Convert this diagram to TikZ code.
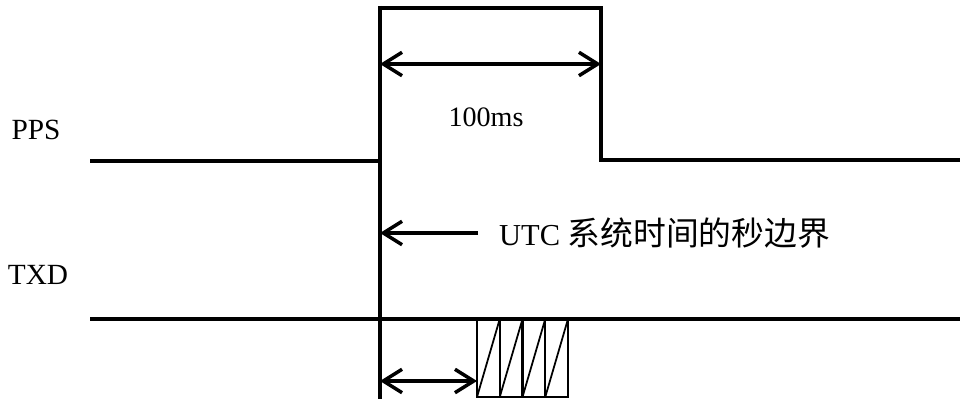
\documentclass[tikz,border=0pt]{standalone}
\usepackage{fontspec}
\setmainfont{Liberation Serif}
\newfontfamily\cjkfont{Noto Sans CJK SC}
\usetikzlibrary{arrows.meta}

\begin{document}
\begin{tikzpicture}[x=0.03cm, y=-0.03cm,
  % Signal lines: heavy black
  signal/.style={line width=3.2pt, line join=miter},
  % Dimension arrows: open barbs
  dimarrow/.style={line width=3pt,
                   arrows={Straight Barb[length=16pt, width=20pt, line width=3pt]-Straight Barb[length=16pt, width=20pt, line width=3pt]}},
  onearrow/.style={line width=3pt,
                   arrows={-Straight Barb[length=16pt, width=20pt, line width=3pt]}},
  % Texts
  sigtext/.style={font=\fontsize{24}{28}\selectfont, inner sep=0pt},
  % Data frame
  frame/.style={line width=2pt},
  bitline/.style={line width=1.5pt}
]
  \useasboundingbox (0,0) rectangle (960,401);

  % Signal names
  \node[sigtext, font=\fontsize{25}{28}\selectfont] (pps) at (36,130) {PPS};
  \node[sigtext, font=\fontsize{25}{28}\selectfont] (txd) at (38,275) {TXD};

  % Key points of the time axis
  \coordinate (ppsleft) at (90,161);
  \coordinate (rise) at (380,161);
  \coordinate (ppshigh) at (380,8);
  \coordinate (fall) at (601,8);
  \coordinate (ppslow) at (601,160);
  \coordinate (ppsright) at (960,160);
  \coordinate (edgetop) at (380,6);
  \coordinate (edgebot) at (380,399);

  % PPS waveform
  \draw[signal] (ppsleft) -- (rise) -- (ppshigh) -- (fall) -- (ppslow) -- (ppsright);
  % Second boundary marker
  \draw[signal] (edgetop) -- (edgebot);

  % Pulse width
  \draw[dimarrow] (380,64) -- (601,64);
  \node[sigtext] (width) at (486,117) {100ms};

  % UTC second boundary
  \node[sigtext, anchor=west, font=\fontsize{26}{30}\selectfont] (utc) at (499,233) {UTC {\cjkfont\fontsize{28}{30}\selectfont 系统时间的秒边界}};
  \coordinate (utcstart) at (478,233);
  \draw[onearrow] (utcstart) -- (utcstart -| edgetop);

  % TXD line
  \coordinate (txdleft) at (90,319);
  \coordinate (txdright) at (960,319);
  \draw[signal] (txdleft) -- (txdright);

  % Data frame
  \draw[frame] (477,319) rectangle (568,397);
  \foreach \i in {1,2,3}
    \draw[frame] ({477+22.75*\i},319) -- ({477+22.75*\i},397);
  \foreach \i in {0,...,3}
    \draw[bitline] ({477+22.75*\i},397) -- ({477+22.75*(\i+1)},319);

  % Delay to frame start
  \coordinate (framestart) at (477,381);
  \draw[dimarrow] (framestart -| edgetop) -- (framestart);

\end{tikzpicture}
\end{document}
